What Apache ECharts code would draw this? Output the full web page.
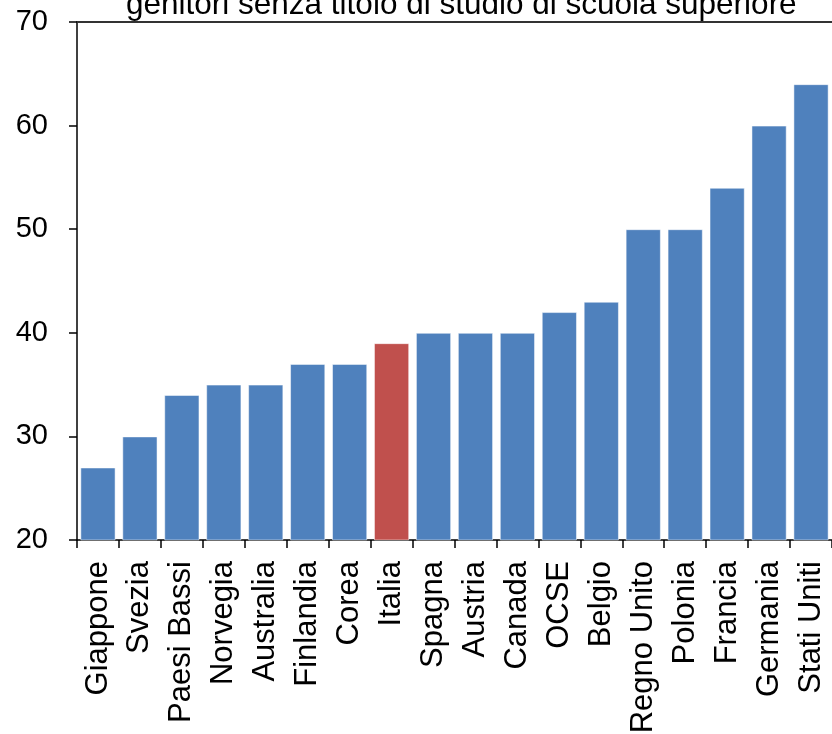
<!DOCTYPE html>
<html><head><meta charset="utf-8">
<script src="https://cdn.jsdelivr.net/npm/echarts@6/dist/echarts.min.js"></script>
<style>html,body{margin:0;padding:0;background:#fff}#c{width:832px;height:734px}</style>
</head><body><div id="c"></div>
<script>
const titleText = 'genitori senza titolo di studio di scuola superiore';
const categories = ['Giappone','Svezia','Paesi Bassi','Norvegia','Australia','Finlandia','Corea','Italia','Spagna','Austria','Canada','OCSE','Belgio','Regno Unito','Polonia','Francia','Germania','Stati Uniti'];
const values = [27,30,34,35,35,37,37,39,40,40,40,42,43,50,50,54,60,64];
const highlight = 'Italia';
const yTicks = [20,30,40,50,60,70];

const chart = echarts.init(document.getElementById('c'), null, {renderer:'canvas'});
const font = '"Liberation Sans", Arial, sans-serif';
chart.setOption({
  animation:false,
  backgroundColor:'#fff',
  title:{text:titleText,left:121,top:-16,textStyle:{fontFamily:font,fontSize:31.5,fontWeight:'normal',color:'#000'}},
  grid:{left:77,right:0,top:22,bottom:194,containLabel:false,outerBoundsMode:'none'},
  xAxis:[{type:'category',data:categories,
    axisLine:{lineStyle:{color:'#000',width:1.5}},
    axisTick:{show:true,length:8,lineStyle:{color:'#000',width:1.5},alignWithLabel:false},
    axisLabel:{rotate:90,fontFamily:font,fontSize:31,color:'#000',margin:21,interval:0,hideOverlap:false}},
   {type:'category',position:'top',data:categories,axisLine:{show:true,lineStyle:{color:'#333',width:2}},axisTick:{show:false},axisLabel:{show:false}}],
  yAxis:{type:'value',min:yTicks[0],max:yTicks[yTicks.length-1],interval:10,
    axisLine:{show:true,lineStyle:{color:'#000',width:1.5}},
    axisTick:{show:true,length:8,lineStyle:{color:'#000',width:1.5}},
    splitLine:{show:false},
    axisLabel:{fontFamily:font,fontSize:29,color:'#000',margin:29}},
  series:[{type:'bar',barCategoryGap:'16%',
    data:values.map((v,i)=>({value:v,itemStyle:{color:categories[i]===highlight?'#C0504D':'#4F81BD'}})),
    itemStyle:{borderColor:'rgba(255,255,255,0.5)',borderWidth:1}}]
});
</script></body></html>
